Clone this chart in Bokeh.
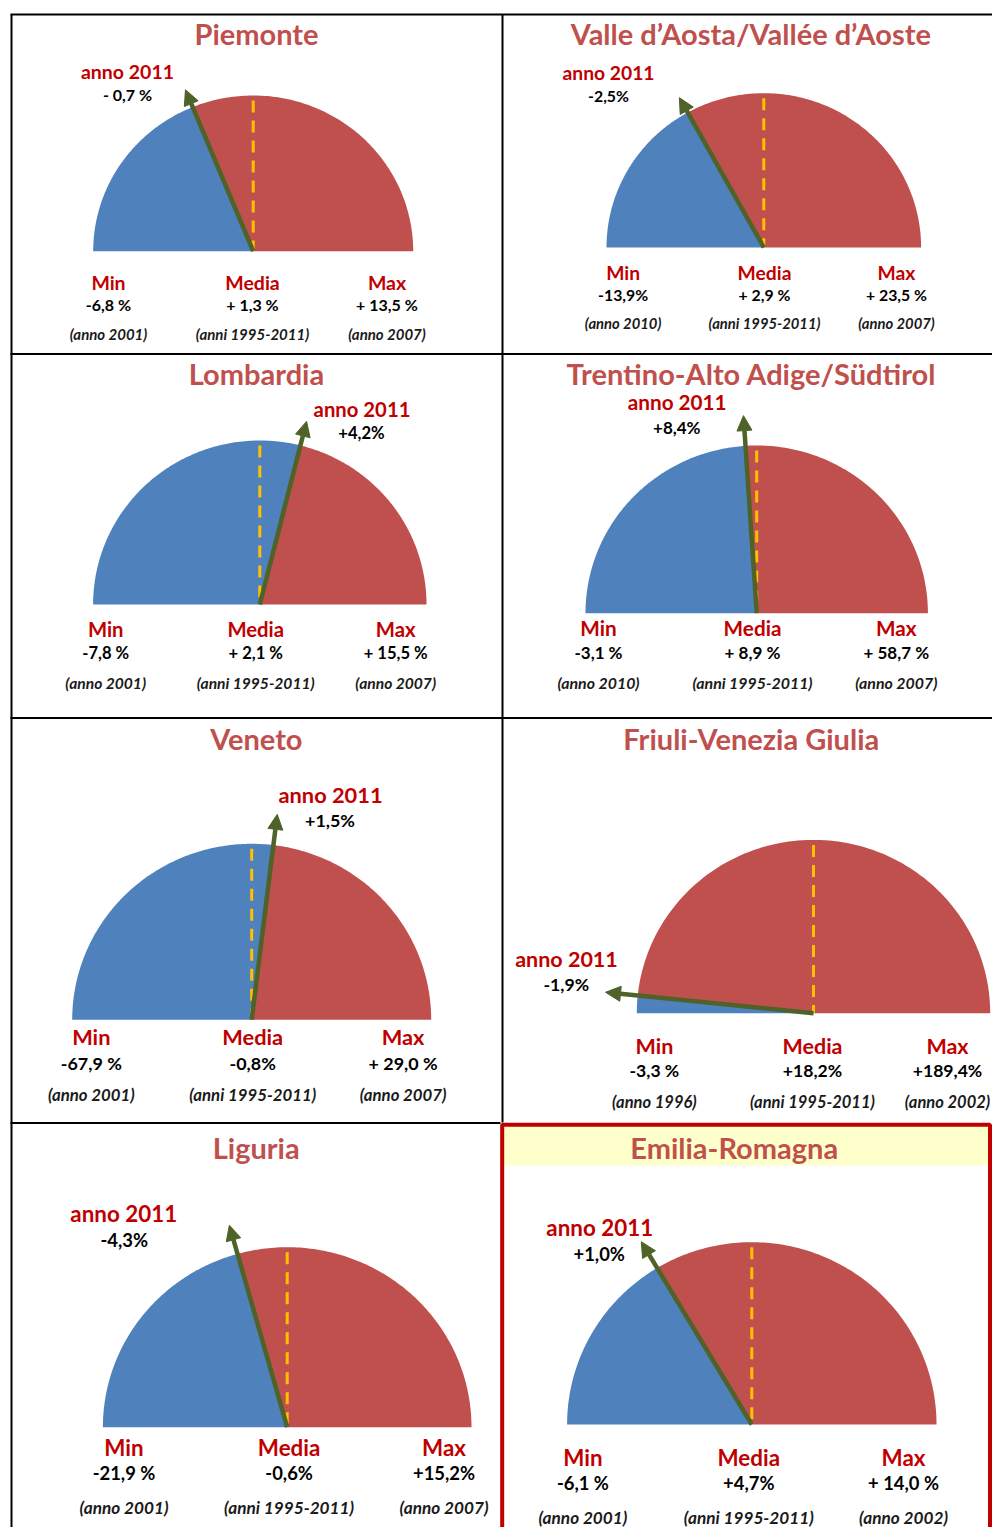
import numpy as np
from bokeh.plotting import figure
from bokeh.models import Range1d, Arrow, NormalHead, ColumnDataSource
from bokeh.core.properties import value
from bokeh.embed import file_html
from bokeh.resources import INLINE

# ---------------- data ----------------
regions = ["Piemonte", "Valle d\u2019Aosta/Vall\u00e9e d\u2019Aoste", "Lombardia",
           "Trentino-Alto Adige/S\u00fcdtirol", "Veneto", "Friuli-Venezia Giulia",
           "Liguria", "Emilia-Romagna"]
val_min = [-6.8, -13.9, -7.8, -3.1, -67.9, -3.3, -21.9, -6.1]
val_media = [1.3, 2.9, 2.1, 8.9, -0.8, 18.2, -0.6, 4.7]
val_max = [13.5, 23.5, 15.5, 58.7, 29.0, 189.4, 15.2, 14.0]
val_2011 = [-0.7, -2.5, 4.2, 8.4, 1.5, -1.9, -4.3, 1.0]
year_min = ["2001", "2010", "2001", "2010", "2001", "1996", "2001", "2001"]
year_max = ["2007", "2007", "2007", "2007", "2007", "2002", "2007", "2002"]
period_media = "1995-2011"
lbl_2011 = ["- 0,7 %", "-2,5%", "+4,2%", "+8,4%", "+1,5%", "-1,9%", "-4,3%", "+1,0%"]
lbl_min = ["-6,8 %", "-13,9%", "-7,8 %", "-3,1 %", "-67,9 %", "-3,3 %", "-21,9 %", "-6,1 %"]
lbl_media = ["+ 1,3 %", "+ 2,9 %", "+ 2,1 %", "+ 8,9 %", "-0,8%", "+18,2%", "-0,6%", "+4,7%"]
lbl_max = ["+ 13,5 %", "+ 23,5 %", "+ 15,5 %", "+ 58,7 %", "+ 29,0 %", "+189,4%", "+15,2%", "+ 14,0 %"]
highlight = "Emilia-Romagna"

# ---------------- layout (picture pixel positions) ----------------
LAYOUT = [
    dict(cx=252.7, cy=250.7, rx=160.0, ry=155.7, L=175, title=(256, 33), a11=(127, 71), a11v=(127, 94),
         cols=(108, 252, 386.5), rows=(282, 304, 333), s=1.0),
    dict(cx=763.3, cy=247.0, rx=157.3, ry=154.3, L=172, title=(750.3, 33), a11=(608, 72), a11v=(608, 95),
         cols=(622.6, 764, 896), rows=(272, 294, 322), s=0.99),
    dict(cx=259.3, cy=604.0, rx=166.7, ry=164.0, L=189, title=(256, 373), a11=(361.5, 408), a11v=(361, 432),
         cols=(105.2, 255.2, 395.2), rows=(628, 652, 682), s=1.04),
    dict(cx=756.2, cy=612.7, rx=171.2, ry=167.7, L=198, title=(751, 373), a11=(676.7, 401.7), a11v=(676.3, 426.7),
         cols=(598, 752, 895.8), rows=(627.3, 651.7, 682.3), s=1.06),
    dict(cx=251.2, cy=1019.3, rx=179.5, ry=176.0, L=207, title=(255.8, 738), a11=(330, 794), a11v=(329.5, 819.3),
         cols=(90.8, 252.2, 402.6), rows=(1036, 1062.3, 1094), s=1.12),
    dict(cx=813.0, cy=1012.7, rx=176.7, ry=173.3, L=209, title=(750.8, 738.3), a11=(566, 958.3), a11v=(565.8, 984),
         cols=(653.9, 812, 947), rows=(1045, 1070, 1101.7), s=1.1),
    dict(cx=286.7, cy=1426.7, rx=184.3, ry=180.0, L=210, title=(255.7, 1146.7), a11=(123.3, 1212.7), a11v=(123.7, 1239),
         cols=(123.5, 288.6, 443.5), rows=(1446.7, 1472.7, 1506.7), s=1.15),
    dict(cx=751.3, cy=1424.0, rx=184.7, ry=182.3, L=213.6, title=(733.7, 1146.7), a11=(599.2, 1226.7), a11v=(598.7, 1253.3),
         cols=(582.4, 748.3, 903), rows=(1456.7, 1482.7, 1516.7), s=1.15),
]

BLUE = "#4F81BD"
RED = "#C0504D"
DARKRED = "#C00000"
ORANGE = "#FFC000"
GREEN = "#4F6228"
FONT = value("Lato")

W, H = 992, 1527


def Y(py):
    return H - py


def gauge_angle(vmin, vmed, vmax, v):
    if v <= vmed:
        return np.pi - (v - vmin) / (vmed - vmin) * np.pi / 2
    return np.pi / 2 - (v - vmed) / (vmax - vmed) * np.pi / 2


p = figure(width=W, height=H, x_range=Range1d(0, W), y_range=Range1d(0, H),
           output_backend="svg", toolbar_location=None, min_border=0,
           background_fill_color="white", border_fill_color="white")
p.axis.visible = False
p.grid.visible = False
p.outline_line_color = None

# highlight background band for the selected region
hl = regions.index(highlight)
p.quad(left=[503], right=[990], bottom=[Y(1165)], top=[Y(1126)], fill_color="#FFFFCC", line_color=None)

# grid lines
p.segment(x0=[10, 10, 10, 10, 11, 502], y0=[Y(14), Y(353.5), Y(717.5), Y(1122.5), Y(14), Y(14)],
          x1=[W, W, W, 500, 11, 502], y1=[Y(14), Y(353.5), Y(717.5), Y(1122.5), Y(1540), Y(1122)],
          line_color="black", line_width=2)

titles = dict(x=[], y=[], t=[])
reds = dict(x=[], y=[], t=[], size=[])
vals = dict(x=[], y=[], t=[], size=[])
years = dict(x=[], y=[], t=[], size=[])

for i, reg in enumerate(regions):
    lo = LAYOUT[i]
    cx, cy, rx, ry = lo["cx"], Y(lo["cy"]), lo["rx"], lo["ry"]
    th = gauge_angle(val_min[i], val_media[i], val_max[i], val_2011[i])

    tb = np.linspace(np.pi, th, 120)
    p.patch(x=np.r_[cx, cx + rx * np.cos(tb)], y=np.r_[cy, cy + ry * np.sin(tb)],
            fill_color=BLUE, line_color=None)
    tr = np.linspace(th, 0, 120)
    p.patch(x=np.r_[cx, cx + rx * np.cos(tr)], y=np.r_[cy, cy + ry * np.sin(tr)],
            fill_color=RED, line_color=None)

    # media line (media is the top of the gauge)
    p.line(x=[cx, cx], y=[cy + ry - 5, cy], line_color=ORANGE, line_width=3, line_dash="12 8")

    # needle for 2011
    dx, dy = rx * np.cos(th), ry * np.sin(th)
    n = np.hypot(dx, dy)
    p.add_layout(Arrow(end=NormalHead(size=15, fill_color=GREEN, line_color=GREEN, line_width=1),
                       x_start=cx, y_start=cy, x_end=cx + lo["L"] * dx / n, y_end=cy + lo["L"] * dy / n,
                       line_color=GREEN, line_width=4.5))

    s = lo["s"]
    titles["x"].append(lo["title"][0]); titles["y"].append(Y(lo["title"][1])); titles["t"].append(reg)
    reds["x"].append(lo["a11"][0]); reds["y"].append(Y(lo["a11"][1])); reds["t"].append("anno 2011")
    reds["size"].append(f"{19.5 * s:.1f}px")
    vals["x"].append(lo["a11v"][0]); vals["y"].append(Y(lo["a11v"][1])); vals["t"].append(lbl_2011[i])
    vals["size"].append(f"{16 * s:.1f}px")
    for j, (head, v, yr) in enumerate([("Min", lbl_min[i], f"(anno {year_min[i]})"),
                                        ("Media", lbl_media[i], f"(anni {period_media})"),
                                        ("Max", lbl_max[i], f"(anno {year_max[i]})")]):
        x = lo["cols"][j]
        reds["x"].append(x); reds["y"].append(Y(lo["rows"][0])); reds["t"].append(head)
        reds["size"].append(f"{19.5 * s:.1f}px")
        vals["x"].append(x); vals["y"].append(Y(lo["rows"][1])); vals["t"].append(v)
        vals["size"].append(f"{16 * s:.1f}px")
        years["x"].append(x); years["y"].append(Y(lo["rows"][2])); years["t"].append(yr)
        years["size"].append(f"{15 * s:.1f}px")

p.text(x="x", y="y", text="t", source=ColumnDataSource(titles), text_font=FONT, text_font_style="bold",
       text_font_size="29px", text_color=RED, text_align="center", text_baseline="middle")
p.text(x="x", y="y", text="t", source=ColumnDataSource(reds), text_font=FONT, text_font_style="bold",
       text_font_size="size", text_color=DARKRED, text_align="center", text_baseline="middle")
p.text(x="x", y="y", text="t", source=ColumnDataSource(vals), text_font=FONT, text_font_style="bold",
       text_font_size="size", text_color="black", text_align="center", text_baseline="middle")
p.text(x="x", y="y", text="t", source=ColumnDataSource(years), text_font=FONT, text_font_style="bold italic",
       text_font_size="size", text_color="#1a1a1a", text_align="center", text_baseline="middle")

# red frame around the highlighted region
p.quad(left=[501.7], right=[989.5], bottom=[Y(1545)], top=[Y(1124.3)], fill_color=None,
       line_color=DARKRED, line_width=4)

open("out.html", "w").write(file_html(p, INLINE))
